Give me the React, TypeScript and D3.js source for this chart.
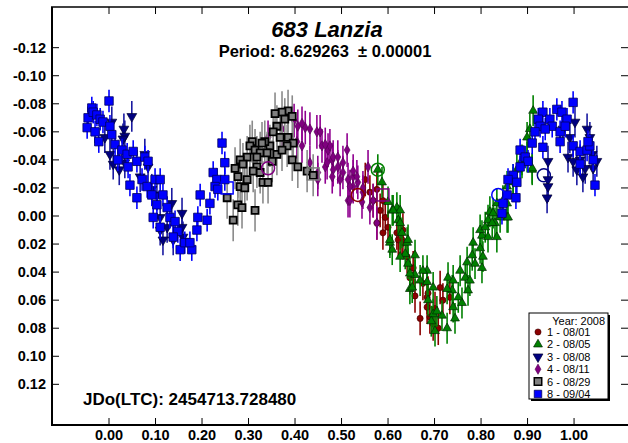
import React from "react";
import * as d3 from "d3";

// ---- data: [phase, magnitude] ----
const s1_0801: [number, number][] = [
  [0.551,-0.026],[0.561,-0.017],[0.568,-0.011],[0.583,-0.004],[0.594,0.001],[0.600,0.008],[0.619,0.012],[0.630,0.017],
  [0.576,-0.019],[0.589,-0.011],[0.626,0.012],[0.632,0.019],[0.641,0.029],[0.654,0.037],[0.658,0.057],[0.669,0.073],
  [0.684,0.065],[0.686,0.055],[0.697,0.077],[0.708,0.080],[0.712,0.051],[0.718,0.060],[0.733,0.058],[0.675,0.048],
  [0.632,0.010],[0.647,0.044],[0.576,0.005],[0.589,0.012],[0.622,0.017],[0.684,0.058],[0.701,0.066],[0.690,0.072]
];
const s2_0805: [number, number][] = [
  [0.578,-0.033],[0.587,-0.024],[0.600,-0.010],[0.609,-0.004],[0.619,-0.006],[0.622,0.003],[0.604,0.019],[0.630,0.012],
  [0.641,0.019],[0.626,-0.004],[0.626,0.005],[0.647,0.052],[0.658,0.042],[0.669,0.046],[0.684,0.039],[0.686,0.060],
  [0.697,0.070],[0.701,0.082],[0.716,0.071],[0.727,0.080],[0.729,0.044],[0.738,0.053],[0.740,0.046],[0.744,0.073],
  [0.755,0.039],[0.759,0.062],[0.766,0.044],[0.776,0.046],[0.772,0.053],[0.770,0.033],[0.781,0.028],[0.783,0.019],
  [0.787,0.034],[0.802,0.037],[0.804,0.029],[0.798,0.023],[0.802,0.014],[0.815,0.015],[0.798,0.010],[0.809,0.008],
  [0.815,0.003],[0.819,-0.003],[0.830,0.005],[0.834,0.015],[0.826,-0.002],[0.841,0.001],[0.856,0.001],[0.751,0.058],
  [0.727,0.052],[0.697,0.051],[0.643,0.017],[0.637,0.027],[0.658,0.028],[0.740,0.065],[0.834,-0.009],[0.847,-0.011],
  [0.856,-0.021],[0.869,-0.024],[0.877,-0.033],[0.888,-0.038],[0.899,-0.042],[0.910,-0.033],[0.824,0.005],[0.912,-0.075],
  [0.905,-0.062],[0.899,-0.056],[0.910,-0.034],[0.888,-0.040],[0.869,-0.026],[0.856,-0.009],[0.858,0.001],[0.611,-0.004],
  [0.604,0.017],[0.609,0.024],[0.626,0.029],[0.643,0.034],[0.647,0.041],[0.652,0.051],[0.675,0.039],[0.684,0.047],
  [0.693,0.075],[0.705,0.068]
];
const s3_0808: [number, number][] = [
  [0.049,-0.071],[0.032,-0.062],[0.034,-0.057],[0.006,-0.067],[-0.009,-0.056],[0.002,-0.044],[0.009,-0.037],[0.022,-0.033],
  [0.034,-0.038],[0.077,-0.044],[0.084,-0.035],[0.067,-0.028],[0.092,-0.019],[0.103,-0.015],[0.110,0.001],[0.110,0.010],
  [0.125,0.008],[0.135,-0.009],[0.157,-0.002],[0.157,0.008],[0.159,0.015],[0.138,0.017],[0.116,0.017],[0.030,-0.055],
  [0.944,-0.039],[0.944,-0.026],[0.944,-0.021],[0.942,-0.013],[1.002,-0.067],[0.991,-0.056],[0.987,-0.042],[0.998,-0.039],
  [1.006,-0.033],[1.013,-0.040],[1.028,-0.062],[1.034,-0.056],[1.039,-0.044],[1.049,-0.039],[1.024,-0.034],[1.019,-0.028],
  [1.041,-0.034],[0.976,-0.062]
];
const s4_0811: [number, number][] = [
  [0.406,-0.064],[0.422,-0.063],[0.432,-0.062],[0.447,-0.060],[0.454,-0.060],[0.458,-0.050],[0.471,-0.047],[0.480,-0.040],
  [0.465,-0.035],[0.482,-0.033],[0.449,-0.031],[0.432,-0.038],[0.415,-0.050],[0.404,-0.053],[0.372,-0.062],[0.342,-0.056],
  [0.475,-0.050],[0.512,-0.047],[0.482,-0.042],[0.469,-0.038],[0.492,-0.035],[0.503,-0.031],[0.525,-0.028],[0.514,-0.026],
  [0.535,-0.024],[0.525,-0.021],[0.480,-0.028],[0.514,-0.011],[0.546,-0.017],[0.568,-0.011],[0.449,-0.026],[0.465,-0.051],
  [0.492,-0.042],[0.503,-0.038],[0.497,-0.026],[0.525,-0.032],[0.533,-0.028],[0.557,-0.035],[0.518,-0.011],[0.544,-0.010],
  [0.518,-0.021],[0.546,-0.020],[0.576,0.005],[0.561,-0.006],[0.398,-0.068],[0.415,-0.066]
];
const s6_0829: [number, number][] = [
  [0.385,-0.075],[0.372,-0.074],[0.357,-0.073],[0.378,-0.069],[0.394,-0.071],[0.361,-0.064],[0.353,-0.060],[0.368,-0.056],
  [0.385,-0.056],[0.396,-0.052],[0.346,-0.050],[0.335,-0.053],[0.329,-0.052],[0.361,-0.044],[0.394,-0.040],[0.406,-0.035],
  [0.426,-0.032],[0.439,-0.029],[0.308,-0.053],[0.303,-0.050],[0.314,-0.047],[0.325,-0.045],[0.297,-0.042],[0.282,-0.040],
  [0.288,-0.037],[0.318,-0.035],[0.310,-0.032],[0.325,-0.031],[0.331,-0.024],[0.342,-0.024],[0.297,-0.026],[0.277,-0.028],
  [0.271,-0.034],[0.282,-0.021],[0.292,-0.020],[0.254,-0.013],[0.277,-0.008],[0.286,-0.006],[0.267,0.003],[0.314,-0.004],
  [0.351,-0.039],[0.340,-0.045],[0.318,-0.042],[0.383,-0.050],[0.372,-0.047]
];
const s8_0904: [number, number][] = [
  [0.000,-0.082],[-0.037,-0.077],[-0.045,-0.070],[-0.047,-0.063],[-0.034,-0.074],[-0.026,-0.072],[-0.019,-0.069],[-0.030,-0.060],
  [-0.022,-0.053],[-0.013,-0.067],[0.002,-0.064],[0.006,-0.058],[0.013,-0.051],[0.028,-0.047],[0.019,-0.040],[0.039,-0.044],
  [0.052,-0.046],[0.041,-0.035],[0.060,-0.039],[0.077,-0.042],[0.084,-0.039],[0.045,-0.022],[0.060,-0.013],[0.071,-0.026],
  [0.082,-0.021],[0.099,-0.026],[0.110,-0.026],[0.092,-0.015],[0.103,-0.008],[0.116,-0.015],[0.095,0.001],[0.110,0.008],
  [0.125,-0.006],[0.131,0.001],[0.142,0.004],[0.148,0.011],[0.138,0.015],[0.153,0.024],[0.163,0.019],[0.178,0.024],
  [0.174,0.019],[0.189,0.010],[0.191,0.001],[0.196,-0.015],[0.211,0.003],[0.217,-0.009],[0.224,-0.031],[0.232,-0.026],
  [0.228,-0.021],[0.243,-0.052],[0.249,-0.038],[0.249,-0.026],[0.234,-0.019],
  [0.998,-0.081],[0.933,-0.074],[0.963,-0.076],[0.974,-0.074],[0.923,-0.069],[0.948,-0.069],[0.985,-0.069],[0.927,-0.064],
  [0.953,-0.064],[0.970,-0.060],[0.938,-0.062],[0.916,-0.060],[0.933,-0.049],[0.910,-0.052],[0.884,-0.047],[0.895,-0.042],
  [0.901,-0.039],[0.884,-0.035],[0.869,-0.029],[0.858,-0.026],[0.877,-0.024],[0.875,-0.013],[0.856,-0.015],[0.847,-0.009],
  [0.845,-0.002],[0.970,-0.053],[0.981,-0.064],[0.998,-0.050],[1.013,-0.046],[1.028,-0.047],[1.041,-0.040],[1.045,-0.022],
  [1.013,-0.037],[1.034,-0.050],[1.030,-0.053]
];
// large open markers
const openCircles: { phase: number; mag: number; color: string }[] = [
  { phase: 0.535, mag: -0.015, color: "#8b0000" },
  { phase: 0.578, mag: -0.033, color: "#008000" },
  { phase: 0.935, mag: -0.029, color: "#000080" },
  { phase: 0.837, mag: -0.015, color: "#0000ff" },
  { phase: 0.342, mag: -0.034, color: "#800080" },
];
const openSquares: { phase: number; mag: number; color: string }[] = [
  { phase: 0.589, mag: -0.015, color: "#800080" },
  { phase: 0.254, mag: -0.020, color: "#0000ff" },
  { phase: 0.439, mag: -0.030, color: "#808080" },
];

const xTicks = [0, 0.1, 0.2, 0.3, 0.4, 0.5, 0.6, 0.7, 0.8, 0.9, 1.0];
const yTicks = [-0.12, -0.1, -0.08, -0.06, -0.04, -0.02, 0, 0.02, 0.04, 0.06, 0.08, 0.1, 0.12];
const legendLabels = ["1 - 08/01", "2 - 08/05", "3 - 08/08", "4 - 08/11", "6 - 08/29", "8 - 09/04"];

type Series = {
  data: [number, number][];
  shape: "circle" | "up" | "down" | "diamond" | "square" | "bigsquare";
  fill: string;
  stroke: string;
  sw: number;
  size: number;
  err: number;
  errColor: string;
};

const series: Series[] = [
  { data: s1_0801, shape: "circle", fill: "#8b0000", stroke: "#3a0000", sw: 0.6, size: 30, err: 0.012, errColor: "#8b0000" },
  { data: s2_0805, shape: "up", fill: "#008000", stroke: "#002800", sw: 0.7, size: 34, err: 0.011, errColor: "#008000" },
  { data: s3_0808, shape: "down", fill: "#000080", stroke: "#000030", sw: 0.7, size: 42, err: 0.011, errColor: "#1a1aa0" },
  { data: s4_0811, shape: "diamond", fill: "#800080", stroke: "#500050", sw: 0.6, size: 30, err: 0.012, errColor: "#900090" },
  { data: s6_0829, shape: "bigsquare", fill: "#808080", stroke: "#000000", sw: 1.8, size: 49, err: 0.015, errColor: "#8a8a8a" },
  { data: s8_0904, shape: "square", fill: "#0000ff", stroke: "#000060", sw: 0.8, size: 72, err: 0.008, errColor: "#0000ff" },
];

const W = 628, H = 443;
const L = 52, R = 628, T = 7, B = 425;

function symPath(shape: Series["shape"], size: number) {
  const t =
    shape === "circle" ? d3.symbolCircle :
    shape === "up" || shape === "down" ? d3.symbolTriangle :
    shape === "diamond" ? d3.symbolDiamond : d3.symbolSquare;
  return d3.symbol().type(t).size(size)() as string;
}

export default function App() {
  const x = d3.scaleLinear().domain([-0.1226, 1.116]).range([L, R]);
  const y = d3.scaleLinear().domain([-0.149, 0.149]).range([T, B]);
  const font = "'Liberation Sans', Arial, sans-serif";

  return (
    <svg width={W} height={H} style={{ position: "absolute", left: 0, top: 0, background: "#fff" }}>
      <rect x={0} y={0} width={W} height={H} fill="#fff" />
      {/* data */}
      {series.map((s, si) => {
        const p = symPath(s.shape, s.size);
        return (
          <g key={si}>
            {s.data.map(([ph, m], i) => (
              <line key={"e" + i} x1={x(ph)} x2={x(ph)} y1={y(m - s.err)} y2={y(m + s.err)}
                stroke={s.errColor} strokeWidth={1.6} />
            ))}
            {s.data.map(([ph, m], i) => (
              <path key={"m" + i} d={p}
                transform={`translate(${x(ph)},${y(m)})${s.shape === "down" ? " rotate(180)" : ""}`}
                fill={s.fill} stroke={s.stroke} strokeWidth={s.sw} />
            ))}
          </g>
        );
      })}
      {openCircles.map((c, i) => (
        <circle key={"oc" + i} cx={x(c.phase)} cy={y(c.mag)} r={6.5} fill="none" stroke={c.color} strokeWidth={1.5} />
      ))}
      {openSquares.map((c, i) => (
        <rect key={"os" + i} x={x(c.phase) - 6} y={y(c.mag) - 6} width={12} height={12} fill="none" stroke={c.color} strokeWidth={1.5} />
      ))}

      {/* frame */}
      <line x1={L} x2={L} y1={T} y2={B + 1} stroke="#000" strokeWidth={2} />
      <line x1={L - 1} x2={W} y1={B} y2={B} stroke="#000" strokeWidth={2} />
      <line x1={L - 1} x2={W} y1={T} y2={T} stroke="#000" strokeWidth={1.5} />
      {xTicks.map((t) => (
        <g key={"xt" + t}>
          <line x1={x(t)} x2={x(t)} y1={B} y2={B - 7} stroke="#000" strokeWidth={1} />
          <line x1={x(t)} x2={x(t)} y1={T} y2={T + 7} stroke="#000" strokeWidth={1} />
          <text x={x(t)} y={440} textAnchor="middle" fontFamily={font} fontWeight="bold" fontSize={14.5}>
            {d3.format(".2f")(t)}
          </text>
        </g>
      ))}
      {yTicks.map((t) => (
        <g key={"yt" + t}>
          <line x1={L} x2={L + 7} y1={y(t)} y2={y(t)} stroke="#000" strokeWidth={1} />
          <line x1={R - 7} x2={R} y1={y(t)} y2={y(t)} stroke="#000" strokeWidth={1} />
          <text x={46} y={y(t) + 5} textAnchor="end" fontFamily={font} fontWeight="bold" fontSize={14.5}>
            {d3.format(".2f")(t).replace("−", "-")}
          </text>
        </g>
      ))}

      {/* titles */}
      <text x={327} y={37} textAnchor="middle" fontFamily={font} fontWeight="bold" fontStyle="italic" fontSize={22}>
        683 Lanzia
      </text>
      <text x={325} y={57} textAnchor="middle" fontFamily={font} fontWeight="bold" fontSize={16.5}
        style={{ whiteSpace: "pre" }}>
        {"Period: 8.629263  \u00B1 0.00001"}
      </text>
      <text x={83} y={405} fontFamily={font} fontWeight="bold" fontSize={17}>
        JDo(LTC): 2454713.728480
      </text>

      {/* legend */}
      <rect x={531} y={315} width={79} height={86} fill="#000" />
      <rect x={529} y={313} width={79} height={86} fill="#fff" stroke="#000" strokeWidth={1} />
      <text x={605} y={325} textAnchor="end" fontFamily={font} fontSize={11}>Year: 2008</text>
      {series.map((s, i) => {
        const ly = 332 + i * 12.4;
        const lsize = s.shape === "bigsquare" ? 56 : s.shape === "square" ? 56 : s.size;
        return (
          <g key={"lg" + i}>
            <path d={symPath(s.shape, lsize)}
              transform={`translate(538,${ly})${s.shape === "down" ? " rotate(180)" : ""}`}
              fill={s.fill} stroke={s.stroke} strokeWidth={s.shape === "bigsquare" ? 1.5 : s.sw} />
            <text x={547} y={ly + 4} fontFamily={font} fontSize={11}>{legendLabels[i]}</text>
          </g>
        );
      })}
    </svg>
  );
}
